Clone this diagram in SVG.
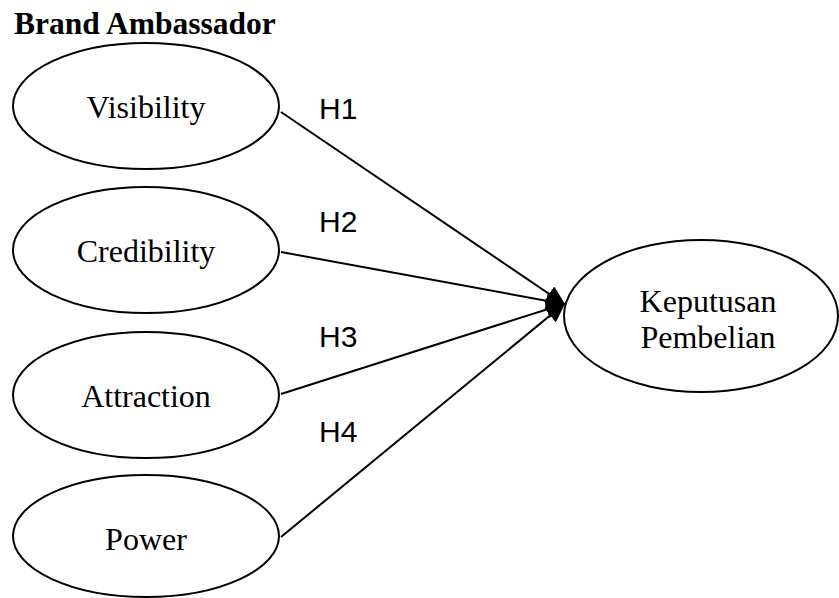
<svg xmlns="http://www.w3.org/2000/svg" width="839" height="598" viewBox="0 0 839 598">
<style>
.node ellipse{fill:#fff;stroke:#000;stroke-width:2}
.lbl{font-family:"Liberation Serif","Times New Roman",serif;font-size:32px;fill:#000;text-anchor:middle}
.h{font-family:"Liberation Sans",Arial,sans-serif;font-size:30px;fill:#000}
.title{font-family:"Liberation Serif","Times New Roman",serif;font-size:31.5px;font-weight:bold;fill:#000}
.edge{stroke:#000;stroke-width:2;fill:none;marker-end:url(#arr)}
</style>
<defs>
<marker id="arr" markerWidth="10" markerHeight="9" refX="9" refY="4.5" orient="auto" markerUnits="strokeWidth">
<path d="M0,0 L10,4.5 L0,9 Z" fill="#000"/>
</marker>
</defs>
<rect width="839" height="598" fill="#fff"/>
<text class="title" x="14" y="34">Brand Ambassador</text>
<g id="connectors">
<line class="edge" x1="281" y1="112" x2="564" y2="304"/>
<line class="edge" x1="281" y1="252" x2="564" y2="304"/>
<line class="edge" x1="281" y1="394" x2="564" y2="304"/>
<line class="edge" x1="281" y1="537" x2="564" y2="304"/>
</g>
<g id="visibility" class="node"><ellipse cx="146" cy="106" rx="133" ry="63"/><text class="lbl" x="146" y="118">Visibility</text></g>
<g id="credibility" class="node"><ellipse cx="146" cy="250" rx="133" ry="63"/><text class="lbl" x="146" y="262">Credibility</text></g>
<g id="attraction" class="node"><ellipse cx="146" cy="395" rx="133" ry="63"/><text class="lbl" x="146" y="407">Attraction</text></g>
<g id="power" class="node"><ellipse cx="146" cy="536" rx="133" ry="61"/><text class="lbl" x="146" y="550">Power</text></g>
<g id="keputusan" class="node"><ellipse cx="701" cy="316" rx="137" ry="76"/><text class="lbl" x="708" y="312">Keputusan</text><text class="lbl" x="708" y="348">Pembelian</text></g>
<g id="hlabels">
<text class="h" x="319" y="119">H1</text>
<text class="h" x="319" y="232">H2</text>
<text class="h" x="319" y="347">H3</text>
<text class="h" x="319" y="442">H4</text>
</g>
</svg>
